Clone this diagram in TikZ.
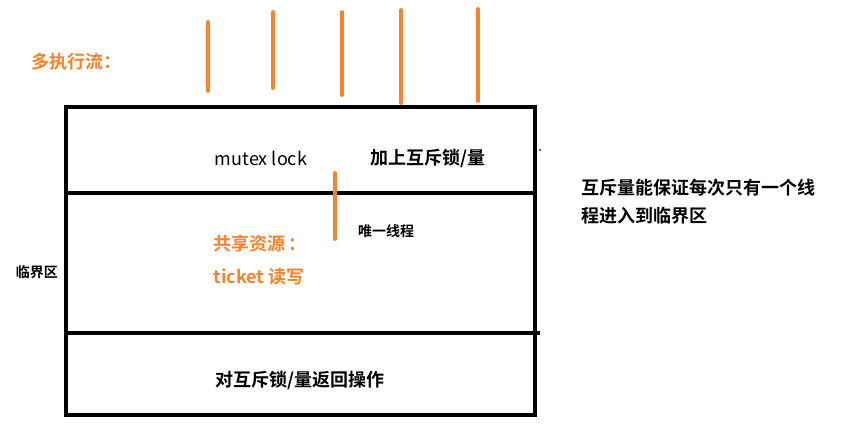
\documentclass[tikz,border=0pt]{standalone}
\usepackage{fontspec}
\setmainfont{Noto Sans CJK SC}
\newfontfamily\cjkbold{Noto Sans CJK SC Bold}
\usepackage{xcolor}
\definecolor{flow}{RGB}{255,128,38}

\begin{document}
\begin{tikzpicture}[x=1pt,y=-1pt,
    box/.style={line width=4.5pt},
    thread/.style={draw=flow,line width=3.8pt,line cap=round},
    big/.style={font=\cjkbold\fontsize{18}{20}\selectfont},
    small/.style={font=\cjkbold\fontsize{14}{16}\selectfont}]
            \useasboundingbox (0,0) rectangle (841,426);
            %
            \draw[box] (66, 107) rectangle (535, 415);
            \draw[box] (66, 193) -- (535, 193);
            \draw[box] (66, 333) -- (540, 333);
            \fill (540, 150) circle (1pt);
            %
            \draw[thread] (208, 22) -- (208, 91);
            \draw[thread] (273, 12) -- (273, 88);
            \draw[thread] (342, 12) -- (342, 95);
            \draw[thread] (401, 10) -- (401, 103);
            \draw[thread] (478, 9) -- (478, 101);
            %
            \draw[thread] (335, 173) -- (335, 239);
            %
            \node[big,text=flow,anchor=west] (flows) at (28, 62) {多执行流：};
            %
            \node[font=\fontsize{18}{20}\selectfont] (lock) at (261, 158) {mutex lock};
            \node[big] (addlock) at (428, 158) {加上互斥锁/量};
            %
            \node[small] (only) at (386, 231) {唯一线程};
            \node[big,text=flow,anchor=west] (shared) at (210, 244) {共享资源\,：};
            \node[big,text=flow,anchor=west] (ticket) at (210, 277) {ticket 读写};
            %
            \node[small] (critical) at (37, 272) {临界区};
            %
            \node[big] (release) at (300, 380) {对互斥锁/量返回操作};
            %
            \node[big,anchor=west] (note1) at (578, 188) {互斥量能保证每次只有一个线};
            \node[big,anchor=west] (note2) at (578, 216) {程进入到临界区};
        \end{tikzpicture}
\end{document}
